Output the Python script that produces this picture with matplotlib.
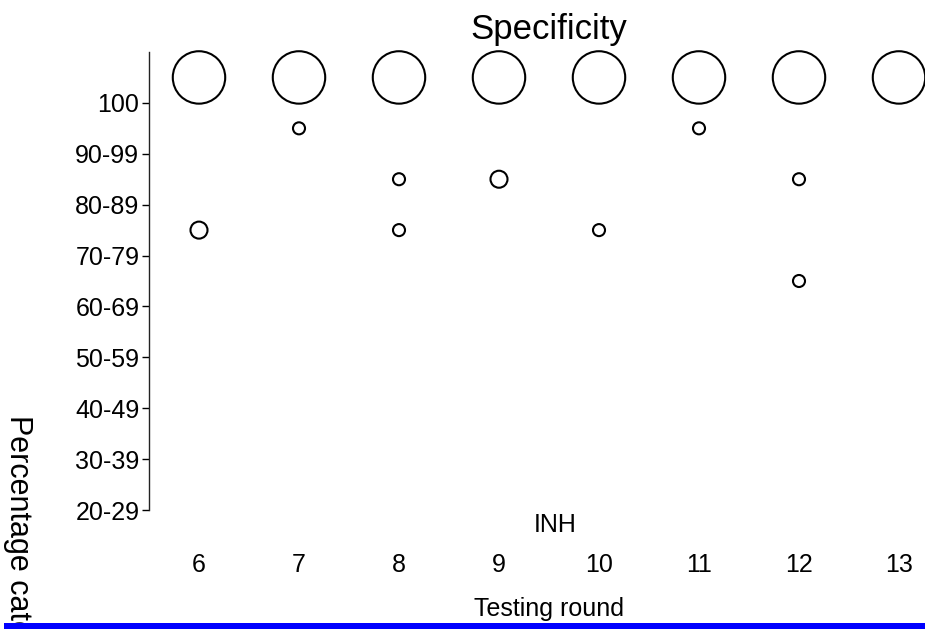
import matplotlib
matplotlib.use("Agg")
import matplotlib.pyplot as plt
from matplotlib.patches import Rectangle

plt.rcParams['font.family'] = ['Liberation Sans', 'DejaVu Sans']

# categories
rounds = [6, 7, 8, 9, 10, 11, 12, 13]
pct_cats = ['20-29', '30-39', '40-49', '50-59', '60-69',
            '70-79', '80-89', '90-99', '100']

# one entry per circle: testing round, percentage category, count
pt_round = [6, 6, 7, 7, 8, 8, 8, 9, 9, 10, 10, 11, 11, 12, 12, 12, 13]
pt_cat = ['100', '70-79', '100', '90-99', '100', '80-89', '70-79',
          '100', '80-89', '100', '70-79', '100', '90-99',
          '100', '80-89', '60-69', '100']
pt_count = [19, 2, 19, 1, 19, 1, 1, 19, 2, 19, 1, 19, 1, 19, 1, 1, 19]

W, H = 925, 629
fig = plt.figure(figsize=(W / 100, H / 100), dpi=100)

# axes runs past the right edge like the original (last band is cut)
ax = fig.add_axes([149 / W, (H - 510) / H, 800 / W, 458 / H])

xs = [rounds.index(r) for r in pt_round]
ys = [pct_cats.index(c) + 0.5 for c in pt_cat]  # points sit mid-band
ax.scatter(xs, ys, s=[75 * c for c in pt_count], facecolors='none',
           edgecolors='black', linewidths=1.5, clip_on=False, zorder=3)

ax.set_xlim(-0.5, len(rounds) - 0.5)
ax.set_ylim(0, len(pct_cats))

ax.set_xticks(range(len(rounds)))
ax.set_xticklabels([str(r) for r in rounds], fontsize=18)
ax.tick_params(axis='x', length=0, pad=31)

ax.set_yticks(range(len(pct_cats)))
ax.set_yticklabels(pct_cats, fontsize=18)
ax.tick_params(axis='y', length=5, width=1, pad=2, colors='black')

for s in ['top', 'right', 'bottom']:
    ax.spines[s].set_visible(False)
ax.spines['left'].set_linewidth(1)
ax.spines['left'].set_color('#222222')

# titles / labels
fig.text(549 / W, 1 - 29 / H, 'Specificity', fontsize=25,
         ha='center', va='center')
fig.text(555 / W, 1 - 525 / H, 'INH', fontsize=18, ha='center', va='center')
fig.text(549 / W, 1 - 609 / H, 'Testing round', fontsize=18,
         ha='center', va='center')
fig.text(18 / W, 1 - 415 / H, 'Percentage category', fontsize=22,
         rotation=-90, ha='center', va='top')

# blue rule along the bottom
fig.patches.append(Rectangle((4 / W, 0), 1, 6 / H, transform=fig.transFigure,
                             facecolor='#0000ff', edgecolor='none', zorder=5))

fig.savefig('out.png', dpi=100)
